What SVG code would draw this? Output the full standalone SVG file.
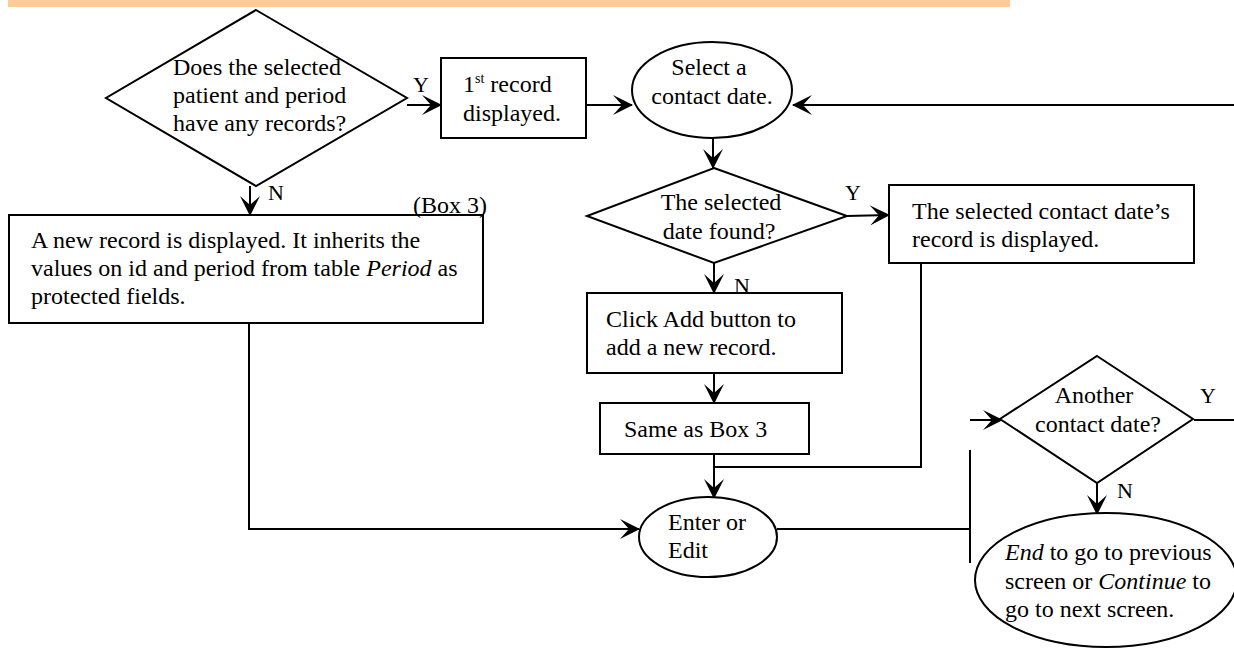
<svg xmlns="http://www.w3.org/2000/svg" width="1234" height="649" viewBox="0 0 1234 649">
<style>
.s{fill:#fff;stroke:#000;stroke-width:2}
.t{font-family:"Liberation Serif","Times New Roman",serif;font-size:24px;fill:#000}
.l{font-family:"Liberation Serif","Times New Roman",serif;font-size:22px;fill:#000}
.c{fill:none;stroke:#000;stroke-width:2}
.a{fill:none;stroke:#000;stroke-width:2;marker-end:url(#ah)}
</style>
<defs>
<marker id="ah" viewBox="0 0 20 20" refX="19" refY="10" markerWidth="20" markerHeight="20" markerUnits="userSpaceOnUse" orient="auto">
<path d="M0,0 L20,10 L0,20 L9,10 Z" fill="#000"/>
</marker>
</defs>
<rect x="8" y="0" width="1002" height="7" fill="#FFCC99"/>
<g id="connectors">
<line class="a" x1="407" y1="105" x2="441" y2="105"/>
<line class="a" x1="586" y1="105" x2="632" y2="105"/>
<line class="a" x1="1234" y1="105" x2="793" y2="105"/>
<line class="a" x1="250" y1="186" x2="250" y2="215"/>
<line class="a" x1="713" y1="138" x2="713" y2="168"/>
<line class="a" x1="847" y1="216" x2="889" y2="215"/>
<line class="a" x1="714" y1="263" x2="714" y2="293"/>
<line class="a" x1="714" y1="373" x2="714" y2="403"/>
<line class="c" x1="714" y1="454" x2="714" y2="468"/>
<polyline class="c" points="921,263 921,467 714,467"/>
<line class="a" x1="714" y1="467" x2="714" y2="498"/>
<polyline class="a" points="249,323 249,529 639,529"/>
<line class="c" x1="777" y1="529" x2="970" y2="529"/>
<line class="c" x1="970" y1="450" x2="970" y2="563"/>
<line class="a" x1="970" y1="420" x2="1002" y2="420"/>
<line class="c" x1="1194" y1="420" x2="1234" y2="420"/>
<line class="a" x1="1097" y1="483" x2="1097" y2="514"/>
</g>
<g id="n1">
<polygon class="s" points="256,10 407,98 256,186 106,98"/>
<text class="t" x="173" y="75">Does the selected</text>
<text class="t" x="173" y="103">patient and period</text>
<text class="t" x="173" y="131">have any records?</text>
</g>
<text class="l" x="413" y="92">Y</text>
<text class="l" x="268" y="200">N</text>
<g id="n2">
<rect class="s" x="441" y="58" width="145" height="80"/>
<text class="t" x="463" y="92">1<tspan font-size="14" dy="-9">st</tspan><tspan dy="9"> record</tspan></text>
<text class="t" x="463" y="121">displayed.</text>
</g>
<g id="n3">
<ellipse class="s" cx="712" cy="90" rx="80" ry="48"/>
<text class="t" x="709" y="75" text-anchor="middle">Select a</text>
<text class="t" x="712" y="104" text-anchor="middle">contact date.</text>
</g>
<g id="n4">
<rect class="s" x="9" y="215" width="474" height="108"/>
<text class="t" x="31" y="248">A new record is displayed. It inherits the</text>
<text class="t" x="31" y="276">values on id and period from table <tspan font-style="italic">Period</tspan> as</text>
<text class="t" x="31" y="304">protected fields.</text>
<text class="t" x="413" y="213" font-size="20">(Box 3)</text>
</g>
<g id="n5">
<polygon class="s" points="714,168 847,216 714,263 587,216"/>
<text class="t" x="721" y="210" text-anchor="middle">The selected</text>
<text class="t" x="719" y="239" text-anchor="middle">date found?</text>
</g>
<text class="l" x="845" y="200">Y</text>
<text class="l" x="734" y="293">N</text>
<g id="n6">
<rect class="s" x="889" y="185" width="305" height="78"/>
<text class="t" x="912" y="219">The selected contact date’s</text>
<text class="t" x="912" y="247">record is displayed.</text>
</g>
<g id="n7">
<rect class="s" x="587" y="293" width="255" height="80"/>
<text class="t" x="606" y="327">Click Add button to</text>
<text class="t" x="606" y="355">add a new record.</text>
</g>
<g id="n8">
<rect class="s" x="600" y="403" width="209" height="51"/>
<text class="t" x="624" y="437">Same as Box 3</text>
</g>
<g id="n9">
<ellipse class="s" cx="708" cy="537" rx="69" ry="40"/>
<text class="t" x="668" y="530">Enter or</text>
<text class="t" x="668" y="558">Edit</text>
</g>
<g id="n10">
<polygon class="s" points="1097,356 1193,419 1097,483 1000,419"/>
<text class="t" x="1094" y="403" text-anchor="middle">Another</text>
<text class="t" x="1098" y="432" text-anchor="middle">contact date?</text>
</g>
<text class="l" x="1200" y="403">Y</text>
<text class="l" x="1117" y="498">N</text>
<g id="n11">
<ellipse class="s" cx="1106" cy="580" rx="131" ry="67"/>
<text class="t" x="1005" y="560"><tspan font-style="italic">End</tspan> to go to previous</text>
<text class="t" x="1005" y="589">screen or <tspan font-style="italic">Continue</tspan> to</text>
<text class="t" x="1005" y="617">go to next screen.</text>
</g>
</svg>
